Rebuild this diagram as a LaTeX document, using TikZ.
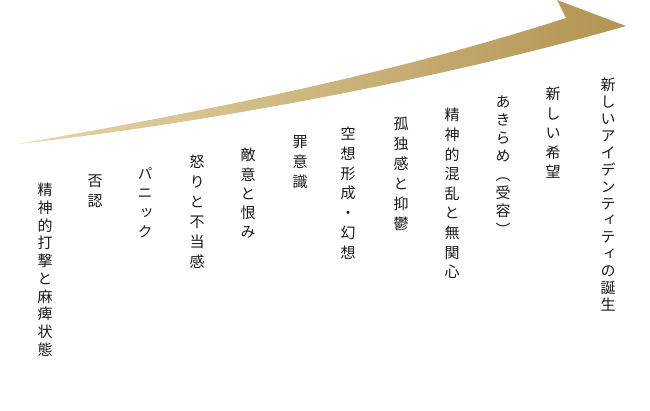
\documentclass[tikz,border=0pt]{standalone}
\usepackage{fontspec}
\newfontfamily\jpfont[RawFeature=+vert]{Noto Sans CJK JP}
\definecolor{tailgold}{RGB}{230,214,170}
\definecolor{headgold}{RGB}{178,148,82}
\definecolor{inkc}{RGB}{25,25,25}
\tikzset{
  col/.style={font=\jpfont\fontsize{15}{#1}\selectfont, align=center, anchor=north, inner sep=0pt, text=inkc},
  col/.default=19.5,
  goldarrow/.style={left color=tailgold, right color=headgold}
}
\begin{document}
\begin{tikzpicture}[x=1pt,y=-1pt]
\useasboundingbox (0,0) rectangle (650,410);
\path[goldarrow] (18,144) .. controls (200,112) and (386,76) .. (566,18)
  -- (557,0) -- (626,26) .. controls (430,82) and (198,124) .. (18,144) -- cycle;
\node[col=16.9] (c1) at (608,78) {新\\し\\い\\ア\\イ\\デ\\ン\\テ\\ィ\\テ\\ィ\\の\\誕\\生};
\node[col=19.5] (c2) at (553,87) {新\\し\\い\\希\\望};
\node[col=18.3] (c3) at (503,95) {あ\\き\\ら\\め\\（\\受\\容\\）};
\node[col=19.6] (c4) at (452,108) {精\\神\\的\\混\\乱\\と\\無\\関\\心};
\node[col=20] (c5) at (401,117) {孤\\独\\感\\と\\抑\\鬱};
\node[col=19.7] (c6) at (348,127) {空\\想\\形\\成\\・\\幻\\想};
\node[col=20] (c7) at (300,135) {罪\\意\\識};
\node[col=19.2] (c8) at (248,148) {敵\\意\\と\\恨\\み};
\node[col=20] (c9) at (197,155) {怒\\り\\と\\不\\当\\感};
\node[col=19.5] (c10) at (145,167) {パ\\ニ\\ッ\\ク};
\node[col=20] (c11) at (95,175) {否\\認};
\node[col=17.7] (c12) at (45,183) {精\\神\\的\\打\\撃\\と\\麻\\痺\\状\\態};
\end{tikzpicture}
\end{document}
